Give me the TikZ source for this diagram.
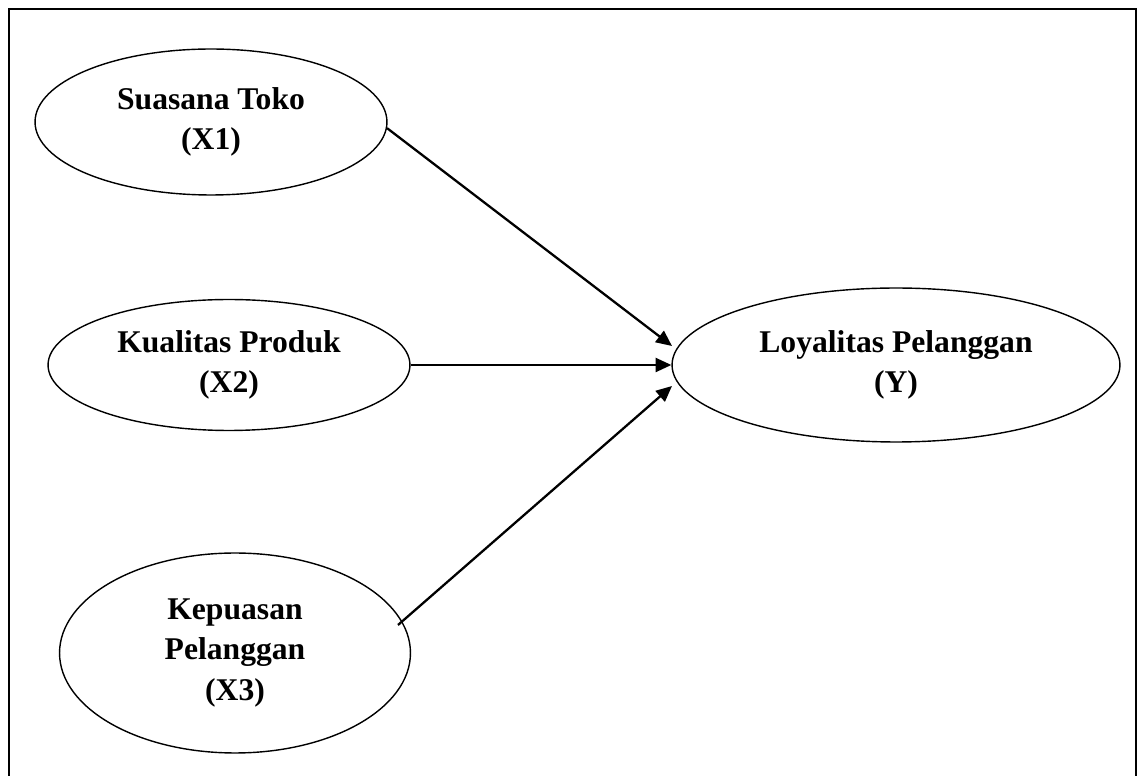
\documentclass[tikz,border=0pt]{standalone}
\usepackage{fontspec}
\setmainfont{Liberation Serif}
\usetikzlibrary{shapes.geometric,arrows.meta}
\begin{document}
\begin{tikzpicture}[x=0.02cm, y=-0.02cm, >={Triangle[length=9pt,width=8pt]},
  var/.style={draw, ellipse, line width=0.8pt, inner sep=0pt, align=center,
    font=\fontsize{18}{22.8}\selectfont\bfseries},
  pfeil/.style={->, line width=1.3pt}]
\useasboundingbox (0,0) rectangle (1137,776);
\draw[line width=1.2pt] (9,800)--(9,9)--(1136,9)--(1136,800);

\node[var, minimum width=7.04cm, minimum height=2.92cm] (x1) at (211,122) {Suasana Toko\\(X1)};
\node[var, minimum width=7.24cm, minimum height=2.62cm] (x2) at (229,365) {Kualitas Produk\\(X2)};
\node[var, minimum width=7.02cm, minimum height=4cm] (x3) at (235,653) {Kepuasan\\Pelanggan\\(X3)};
\node[var, minimum width=8.96cm, minimum height=3.08cm] (y) at (896,365) {Loyalitas Pelanggan\\(Y)};

\coordinate (t1) at (672,346);
\coordinate (t3) at (672,386);
\coordinate (s3) at (398,625);

\draw[pfeil](x1.-2)--(t1);
\draw[pfeil](x2.east)--(y.west);
\draw[pfeil](s3)--(t3);

\end{tikzpicture}
\end{document}
